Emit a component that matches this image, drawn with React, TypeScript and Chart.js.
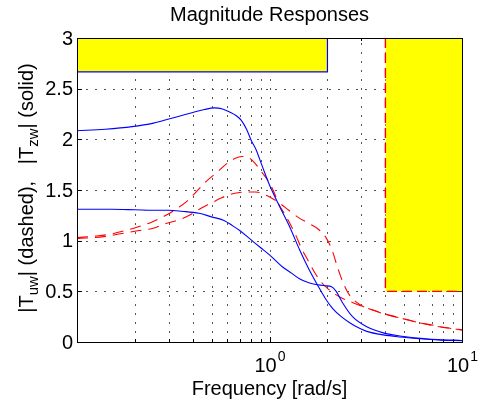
import { useEffect, useRef } from "react";
import { Chart, registerables } from "chart.js";

Chart.register(...registerables);

const FONT = '"Liberation Sans", Arial, Helvetica, sans-serif';

// |T_zw| solid curves
const freqZw1 = [0.1, 0.14, 0.193, 0.25, 0.3, 0.35, 0.4, 0.46, 0.517, 0.57, 0.62, 0.67, 0.712, 0.76, 0.803, 0.853, 0.887, 0.94, 1.0, 1.127, 1.271, 1.433, 1.6, 1.778, 1.95, 2.13, 2.36, 2.61, 2.9, 3.2, 3.9, 4.75, 6.0, 7.5, 10];
const magZw1 = [2.085, 2.1, 2.125, 2.16, 2.2, 2.235, 2.265, 2.295, 2.31, 2.3, 2.27, 2.235, 2.19, 2.1, 1.99, 1.895, 1.81, 1.68, 1.55, 1.34, 1.14, 0.91, 0.72, 0.56, 0.43, 0.33, 0.25, 0.19, 0.14, 0.105, 0.07, 0.05, 0.033, 0.02, 0.013];

const freqZw2 = [0.1, 0.15, 0.2, 0.25, 0.3, 0.35, 0.43, 0.5, 0.58, 0.64, 0.7, 0.8, 0.9, 1.0, 1.08, 1.17, 1.3, 1.43, 1.6, 1.78, 1.95, 2.1, 2.22, 2.4, 2.7, 3.2, 3.9, 4.75, 5.8, 7.5, 10];
const magZw2 = [1.31, 1.31, 1.305, 1.3, 1.3, 1.29, 1.27, 1.235, 1.2, 1.15, 1.1, 1.01, 0.93, 0.86, 0.8, 0.74, 0.68, 0.625, 0.585, 0.565, 0.555, 0.545, 0.5, 0.385, 0.25, 0.15, 0.09, 0.06, 0.04, 0.025, 0.015];

// |T_uw| dashed curves
const freqUw1 = [0.1, 0.125, 0.15, 0.182, 0.21, 0.242, 0.29, 0.332, 0.368, 0.415, 0.46, 0.53, 0.6, 0.66, 0.72, 0.78, 0.835, 0.917, 1.0, 1.06, 1.11, 1.21, 1.3, 1.38, 1.46, 1.58, 1.71, 1.86, 2.0, 2.2, 2.4, 2.7, 3.0, 3.5, 4.0, 4.6, 6.0, 7.1, 8.3, 10];
const magUw1 = [1.03, 1.045, 1.065, 1.105, 1.14, 1.18, 1.25, 1.32, 1.38, 1.48, 1.57, 1.67, 1.76, 1.81, 1.83, 1.82, 1.77, 1.67, 1.57, 1.47, 1.37, 1.25, 1.14, 1.04, 0.93, 0.81, 0.69, 0.59, 0.53, 0.47, 0.43, 0.39, 0.355, 0.31, 0.275, 0.245, 0.19, 0.16, 0.14, 0.12];

const freqUw2 = [0.1, 0.138, 0.182, 0.21, 0.246, 0.29, 0.344, 0.383, 0.441, 0.497, 0.56, 0.62, 0.7, 0.78, 0.85, 0.98, 1.11, 1.26, 1.41, 1.6, 1.8, 1.98, 2.12, 2.22, 2.35, 2.5, 2.61, 2.94, 3.5, 4.06, 4.6, 6.04, 7.1, 8.3, 10];
const magUw2 = [1.02, 1.04, 1.08, 1.1, 1.12, 1.17, 1.21, 1.25, 1.32, 1.37, 1.42, 1.455, 1.475, 1.48, 1.48, 1.44, 1.38, 1.3, 1.23, 1.17, 1.11, 1.02, 0.9, 0.78, 0.64, 0.52, 0.46, 0.37, 0.31, 0.27, 0.245, 0.19, 0.165, 0.14, 0.12];

// Specification bounds (shaded regions)
const boundZwFreq = [0.1, 2, 2];
const boundZwMag = [2.665, 2.665, 3];
const boundUwFreq = [4, 4, 10];
const boundUwMag = [3, 0.5, 0.5];

// Axes
const xMin = 0.1;
const xMax = 10;
const yMin = 0;
const yMax = 3;
const yTickValues = [0, 0.5, 1, 1.5, 2, 2.5, 3];
const yTickLabels = ["0", "0.5", "1", "1.5", "2", "2.5", "3"];
const xGridValues = [0.2, 0.3, 0.4, 0.5, 0.6, 0.7, 0.8, 0.9, 1, 2, 3, 4, 5, 6, 7, 8, 9];
const xMajorValues = [1, 10];
const xMajorBase = ["10", "10"];
const xMajorExp = ["0", "1"];

const titleText = "Magnitude Responses";
const xLabelText = "Frequency [rad/s]";
const yLabelParts = [
  { t: "|T", sub: false },
  { t: "uw", sub: true },
  { t: "| (dashed),   |T", sub: false },
  { t: "zw", sub: true },
  { t: "| (solid)", sub: false },
];

const toPts = (xs: number[], ys: number[]) => xs.map((x, i) => ({ x, y: ys[i] }));

const decorPlugin = {
  id: "decor",
  beforeDatasetsDraw(chart: any) {
    const { ctx, chartArea: a, scales } = chart;
    const x = scales.x;
    const y = scales.y;
    ctx.save();
    ctx.strokeStyle = "#555";
    ctx.lineWidth = 1;
    ctx.setLineDash([2, 7]);
    ctx.beginPath();
    for (const v of xGridValues) {
      const px = Math.round(x.getPixelForValue(v)) + 0.5;
      ctx.moveTo(px, a.bottom);
      ctx.lineTo(px, a.top);
    }
    for (const v of yTickValues) {
      if (v === yMin || v === yMax) continue;
      const py = Math.round(y.getPixelForValue(v)) + 0.5;
      ctx.moveTo(a.left, py);
      ctx.lineTo(a.right, py);
    }
    ctx.stroke();
    ctx.setLineDash([]);
    ctx.strokeStyle = "#000";
    ctx.beginPath();
    for (const v of yTickValues) {
      const py = Math.round(y.getPixelForValue(v)) + 0.5;
      ctx.moveTo(a.left, py);
      ctx.lineTo(a.left + 5, py);
      ctx.moveTo(a.right, py);
      ctx.lineTo(a.right - 5, py);
    }
    for (const v of xGridValues) {
      const px = Math.round(x.getPixelForValue(v)) + 0.5;
      const len = xMajorValues.includes(v) ? 5 : 3;
      ctx.moveTo(px, a.bottom);
      ctx.lineTo(px, a.bottom - len);
      ctx.moveTo(px, a.top);
      ctx.lineTo(px, a.top + len);
    }
    ctx.stroke();
    ctx.restore();
  },
  afterDatasetsDraw(chart: any) {
    const { ctx, chartArea: a, scales } = chart;
    const x = scales.x;
    const y = scales.y;
    ctx.save();
    ctx.strokeStyle = "#000";
    ctx.lineWidth = 1;
    ctx.strokeRect(Math.round(a.left) + 0.5, Math.round(a.top) + 0.5, Math.round(a.right - a.left), Math.round(a.bottom - a.top));
    ctx.fillStyle = "#000";
    ctx.font = `20px ${FONT}`;
    ctx.textAlign = "right";
    ctx.textBaseline = "middle";
    yTickValues.forEach((v, i) => {
      ctx.fillText(yTickLabels[i], a.left - 4, y.getPixelForValue(v) + 1);
    });
    ctx.textBaseline = "alphabetic";
    ctx.textAlign = "left";
    xMajorValues.forEach((v, i) => {
      ctx.font = `20px ${FONT}`;
      const wb = ctx.measureText(xMajorBase[i]).width;
      ctx.font = `14px ${FONT}`;
      const we = ctx.measureText(xMajorExp[i]).width;
      const px = x.getPixelForValue(v);
      const start = px - (wb + we) / 2;
      ctx.font = `20px ${FONT}`;
      ctx.fillText(xMajorBase[i], start, a.bottom + 30);
      ctx.font = `14px ${FONT}`;
      ctx.fillText(xMajorExp[i], start + wb + 1, a.bottom + 19);
    });
    ctx.font = `20px ${FONT}`;
    ctx.textAlign = "center";
    ctx.fillText(xLabelText, (a.left + a.right) / 2, a.bottom + 53);
    ctx.fillText(titleText, (a.left + a.right) / 2, a.top - 17);
    const cx = 33;
    const cy = (a.top + a.bottom) / 2 - 2;
    ctx.translate(cx, cy);
    ctx.rotate(-Math.PI / 2);
    ctx.textAlign = "left";
    let total = 0;
    for (const p of yLabelParts) {
      ctx.font = p.sub ? `15px ${FONT}` : `20px ${FONT}`;
      total += ctx.measureText(p.t).width;
    }
    let u = -total / 2;
    for (const p of yLabelParts) {
      ctx.font = p.sub ? `15px ${FONT}` : `20px ${FONT}`;
      ctx.fillText(p.t, u, p.sub ? 5 : 0);
      u += ctx.measureText(p.t).width;
    }
    ctx.restore();
  },
};

export default function App() {
  const canvasRef = useRef<HTMLCanvasElement | null>(null);

  useEffect(() => {
    const canvas = canvasRef.current;
    if (!canvas) return;
    const blue = "#0000ff";
    const red = "#ff0000";
    const yellow = "#ffff00";
    const curve = (data: any, color: string, dashed: boolean) => ({
      data,
      borderColor: color,
      borderWidth: 1.1,
      borderDash: dashed ? [11, 7] : [],
      pointRadius: 0,
      fill: false,
      cubicInterpolationMode: "monotone" as const,
    });
    const chart = new Chart(canvas, {
      type: "line",
      data: {
        datasets: [
          {
            data: toPts(boundZwFreq, boundZwMag),
            borderColor: blue,
            borderWidth: 1.2,
            backgroundColor: yellow,
            fill: "end",
            pointRadius: 0,
            tension: 0,
          },
          {
            data: toPts(boundUwFreq, boundUwMag),
            borderColor: red,
            borderWidth: 1.4,
            borderDash: [10, 5],
            backgroundColor: yellow,
            fill: "end",
            pointRadius: 0,
            tension: 0,
          },
          curve(toPts(freqZw1, magZw1), blue, false),
          curve(toPts(freqZw2, magZw2), blue, false),
          curve(toPts(freqUw1, magUw1), red, true),
          curve(toPts(freqUw2, magUw2), red, true),
        ],
      },
      options: {
        animation: false,
        responsive: false,
        devicePixelRatio: 1,
        layout: { padding: { left: 77, top: 38, right: 19, bottom: 62 } },
        plugins: { legend: { display: false }, tooltip: { enabled: false }, title: { display: false } },
        scales: {
          x: { type: "logarithmic", min: xMin, max: xMax, display: false },
          y: { type: "linear", min: yMin, max: yMax, display: false },
        },
      },
      plugins: [decorPlugin],
    });
    return () => chart.destroy();
  }, []);

  return (
    <div style={{ position: "absolute", left: 0, top: 0, width: 481, height: 404, background: "#fff" }}>
      <canvas ref={canvasRef} width={481} height={404} />
    </div>
  );
}
